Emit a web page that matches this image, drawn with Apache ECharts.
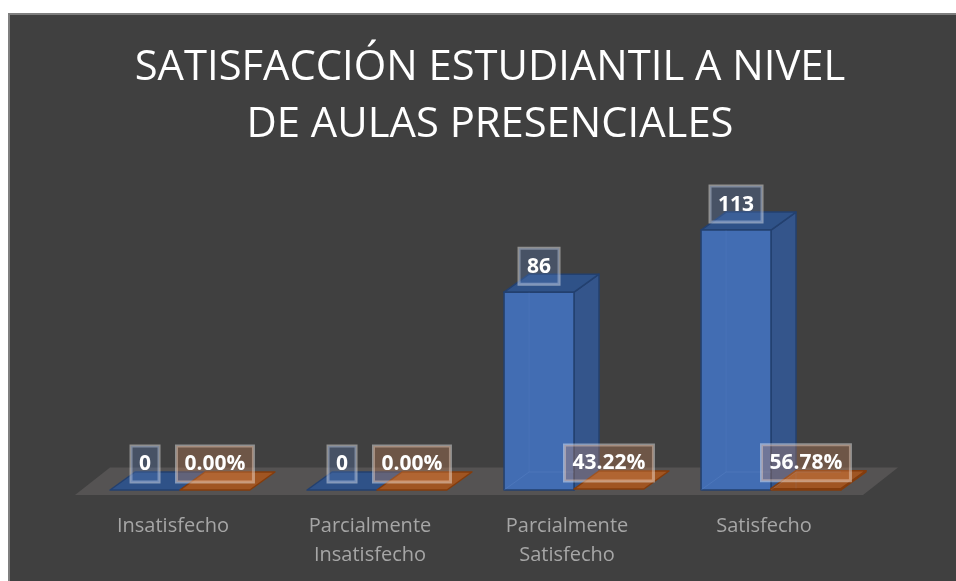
<!DOCTYPE html>
<html>
<head>
<meta charset="utf-8">
<title>Satisfacción estudiantil</title>
<script src="https://cdn.jsdelivr.net/npm/echarts@6/dist/echarts.min.js"></script>
<style>
  html, body { margin: 0; padding: 0; background: #fff; overflow: hidden; }
  #panel { position: absolute; left: 8px; top: 13px; right: 0; bottom: 0; background: #404040;
           border-left: 2px solid #7f7f7f; border-top: 2px solid #7f7f7f; }
  #main { position: absolute; left: 0; top: 0; width: 956px; height: 581px; }
</style>
</head>
<body>
<div id="panel"></div>
<div id="main"></div>
<script>
var tituloLineas = ['SATISFACCIÓN ESTUDIANTIL A NIVEL', 'DE AULAS PRESENCIALES'];
var categorias = ['Insatisfecho', 'Parcialmente\nInsatisfecho', 'Parcialmente\nSatisfecho', 'Satisfecho'];
var cantidad = [0, 0, 86, 113];
var porcentaje = [0, 0, 0.4322, 0.5678];
var porcentajeTexto = ['0.00%', '0.00%', '43.22%', '56.78%'];

var DX = 25, DY = -18;

function cara(puntos, color, borde) {
  return {
    type: 'polygon',
    shape: { points: puntos },
    style: { fill: color, stroke: borde, lineWidth: 1.5, lineJoin: 'round' }
  };
}

// barra 3D: frente, lado y tapa
function barra3d(lado, colores, textos, api) {
  var i = api.value(0);
  var v = api.value(1);
  var base = api.coord([i, 0]);
  var tope = api.coord([i, v]);
  var ancho = api.size([1, 0])[0] * 0.355;
  var x0 = lado < 0 ? base[0] - ancho : base[0];
  var x1 = x0 + ancho;
  var yb = base[1], yt = tope[1];
  var hijos = [];
  if (yb - yt > 1) {
    hijos.push(cara([[x1, yb], [x1 + DX, yb + DY], [x1 + DX, yt + DY], [x1, yt]], colores.lado, colores.borde));
  }
  hijos.push(cara([[x0, yt], [x1, yt], [x1 + DX, yt + DY], [x0 + DX, yt + DY]], colores.tapa, colores.borde));
  if (yb - yt > 1) {
    hijos.push(cara([[x0, yb], [x1, yb], [x1, yt], [x0, yt]], colores.frente, colores.borde));
    // aristas de atras, se ven a traves de la barra
    hijos.push({
      type: 'polyline',
      shape: { points: [[x0, yb], [x0 + DX, yb + DY], [x1, yb + DY]] },
      style: { fill: null, stroke: 'rgba(120,160,220,0.18)', lineWidth: 1 }
    });
    hijos.push({
      type: 'line',
      shape: { x1: x0 + DX, y1: yb + DY, x2: x0 + DX, y2: yt },
      style: { stroke: 'rgba(120,160,220,0.12)', lineWidth: 1 }
    });
  }
  hijos.push({
    type: 'text',
    z2: 50,
    x: (x0 + x1) / 2,
    y: yt - 8,
    style: {
      text: textos[i],
      x: 0, y: 0,
      align: 'center',
      verticalAlign: 'bottom',
      fill: '#fff',
      font: 'bold 21px "Open Sans"',
      backgroundColor: colores.etiqueta,
      borderColor: 'rgba(255,255,255,0.42)',
      borderWidth: 1.5,
      padding: [8, 8, 7, 8],
      boxShadowBlur: 16,
      boxShadowColor: 'rgba(0,0,0,0.22)'
    }
  });
  return { type: 'group', children: hijos };
}

var chart = echarts.init(document.getElementById('main'), null, { renderer: 'canvas' });

chart.setOption({
  backgroundColor: 'transparent',
  animation: false,
  title: {
    text: tituloLineas.join('\n'),
    left: 485,
    top: 34,
    textAlign: 'center',
    textStyle: {
      color: '#fff',
      fontFamily: 'Open Sans',
      fontWeight: 400,
      fontSize: 41.75,
      lineHeight: 57.5
    }
  },
  grid: { left: 81.5, right: 86.5, top: 145, bottom: 91 },
  xAxis: {
    type: 'category',
    data: categorias,
    axisLine: { show: false },
    axisTick: { show: false },
    axisLabel: {
      color: '#a6a6a6',
      fontFamily: 'Open Sans',
      fontSize: 20,
      lineHeight: 29,
      margin: 22,
      interval: 0,
      padding: [0, 14, 0, 0]
    }
  },
  yAxis: { type: 'value', min: 0, max: 150, interval: 50, show: false },
  series: [
    {
      // piso gris del grafico, sale del tamano del grid
      name: 'Piso',
      type: 'custom',
      z: 1,
      silent: true,
      data: [[0]],
      renderItem: function (params, api) {
        var c = params.coordSys;
        var yb = c.y + c.height;
        return {
          type: 'polygon',
          shape: { points: [
            [c.x - 6.5, yb + 5],
            [c.x + c.width - 6.5, yb + 5],
            [c.x + c.width + 28.5, yb - 22.5],
            [c.x + 28.5, yb - 22.5]
          ] },
          style: { fill: '#555353' }
        };
      }
    },
    {
      name: 'Cantidad',
      type: 'custom',
      z: 2,
      data: cantidad.map(function (v, i) { return [i, v]; }),
      renderItem: function (params, api) {
        return barra3d(-1, {
          frente: '#426db3', lado: '#34558b', tapa: '#2f5288', borde: '#23406f',
          etiqueta: 'rgba(90,125,190,0.30)'
        }, cantidad, api);
      }
    },
    {
      name: 'Porcentaje',
      type: 'custom',
      z: 3,
      data: porcentaje.map(function (v, i) { return [i, v]; }),
      renderItem: function (params, api) {
        return barra3d(1, {
          frente: '#a85a24', lado: '#8a4a1e', tapa: '#a05522', borde: '#843c0c',
          etiqueta: 'rgba(220,140,90,0.30)'
        }, porcentajeTexto, api);
      }
    }
  ]
});
</script>
</body>
</html>
